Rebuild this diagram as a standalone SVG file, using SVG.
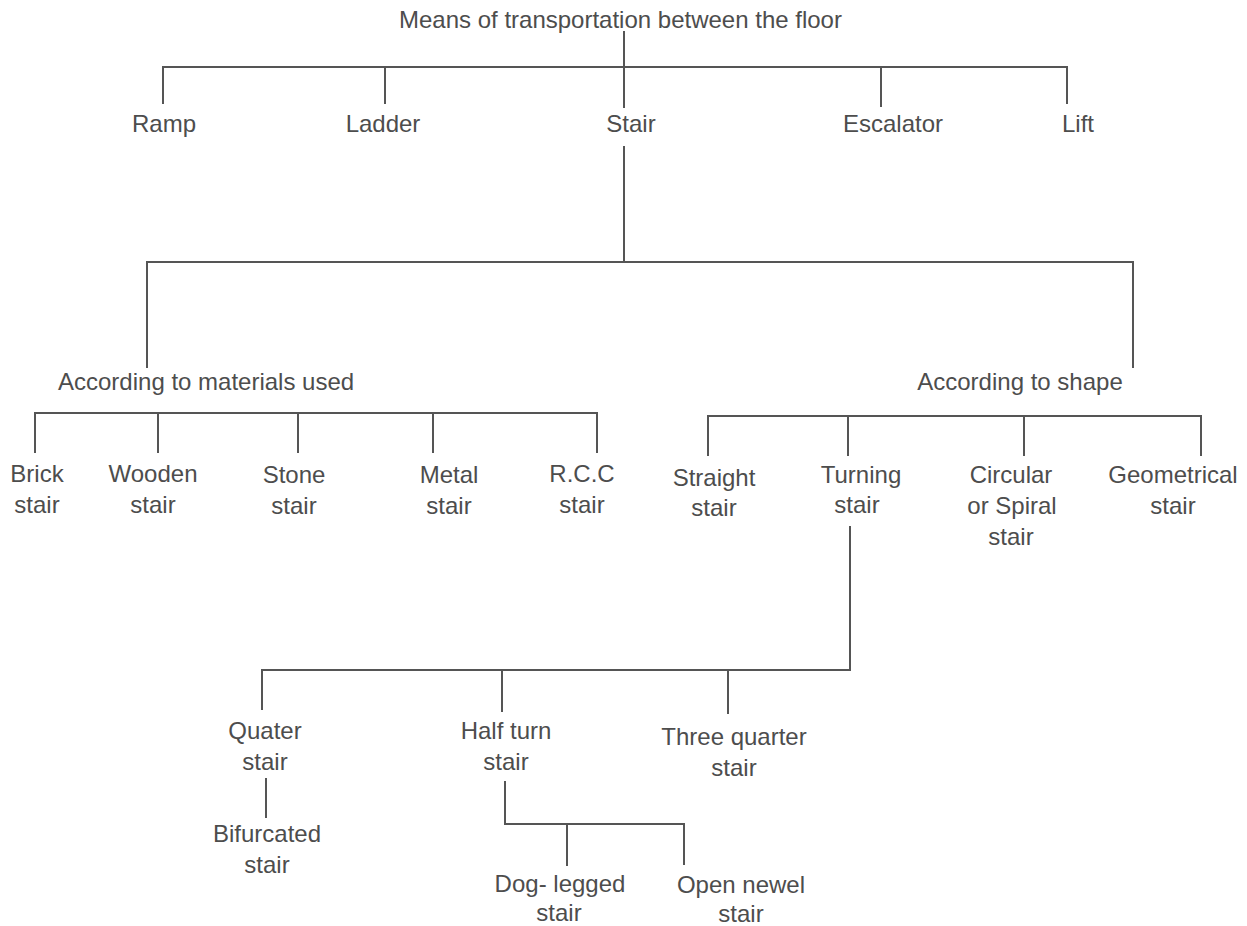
<svg xmlns="http://www.w3.org/2000/svg" width="1247" height="926" viewBox="0 0 1247 926">
  <style>
    text { font-family: "Liberation Sans", Arial, sans-serif; font-size: 24px; fill: #4d4d4d; text-anchor: middle; }
    text.left { text-anchor: start; }
    .wire { fill: none; stroke: #555555; stroke-width: 2; stroke-linecap: butt; stroke-linejoin: miter; }
  </style>
  <rect width="1247" height="926" fill="#ffffff"/>

  <g id="connectors" class="wire">
    <!-- root to first level -->
    <path d="M624 31 V108"/>
    <path d="M163 104 V67 H1067 V104"/>
    <path d="M385 67 V104"/>
    <path d="M881 67 V107"/>
    <!-- stair to classifications -->
    <path d="M624 146 V262"/>
    <path d="M147 368 V262 H1133 V368"/>
    <!-- materials -->
    <path d="M35 453 V413 H597 V453"/>
    <path d="M158 413 V453"/>
    <path d="M298 413 V453"/>
    <path d="M433 413 V453"/>
    <!-- shape -->
    <path d="M708 456 V416 H1201 V456"/>
    <path d="M848 416 V456"/>
    <path d="M1024 416 V456"/>
    <!-- turning stair -->
    <path d="M850 526 V670 H262 V710"/>
    <path d="M502 670 V712"/>
    <path d="M728 670 V714"/>
    <!-- quarter turn -->
    <path d="M266 778 V818"/>
    <!-- half turn -->
    <path d="M505 781 V824 H684 V865"/>
    <path d="M567 824 V866"/>
  </g>

  <g id="root"><text class="left" x="399" y="28">Means of transportation between the floor</text></g>
  <g id="ramp"><text x="164" y="132">Ramp</text></g>
  <g id="ladder"><text x="383" y="132">Ladder</text></g>
  <g id="stair"><text x="631" y="132">Stair</text></g>
  <g id="escalator"><text x="893" y="132">Escalator</text></g>
  <g id="lift"><text x="1078" y="132">Lift</text></g>

  <g id="by-material"><text class="left" x="58" y="390">According to materials used</text></g>
  <g id="by-shape"><text x="1020" y="390">According to shape</text></g>

  <g id="brick"><text x="37" y="482">Brick</text><text x="37" y="513">stair</text></g>
  <g id="wooden"><text x="153" y="482">Wooden</text><text x="153" y="513">stair</text></g>
  <g id="stone"><text x="294" y="483">Stone</text><text x="294" y="514">stair</text></g>
  <g id="metal"><text x="449" y="483">Metal</text><text x="449" y="514">stair</text></g>
  <g id="rcc"><text x="582" y="482">R.C.C</text><text x="582" y="513">stair</text></g>

  <g id="straight"><text x="714" y="486">Straight</text><text x="714" y="516">stair</text></g>
  <g id="turning"><text x="861" y="483">Turning</text><text x="857" y="513">stair</text></g>
  <g id="spiral"><text x="1011" y="483">Circular</text><text x="1012" y="514">or Spiral</text><text x="1011" y="545">stair</text></g>
  <g id="geometrical"><text x="1173" y="483">Geometrical</text><text x="1173" y="514">stair</text></g>

  <g id="quarter"><text x="265" y="739">Quater</text><text x="265" y="770">stair</text></g>
  <g id="half-turn"><text x="506" y="739">Half turn</text><text x="506" y="770">stair</text></g>
  <g id="three-quarter"><text x="734" y="745">Three quarter</text><text x="734" y="776">stair</text></g>
  <g id="bifurcated"><text x="267" y="842">Bifurcated</text><text x="267" y="873">stair</text></g>
  <g id="dog-legged"><text x="560" y="892">Dog- legged</text><text x="559" y="921">stair</text></g>
  <g id="open-newel"><text x="741" y="893">Open newel</text><text x="741" y="922">stair</text></g>
</svg>
